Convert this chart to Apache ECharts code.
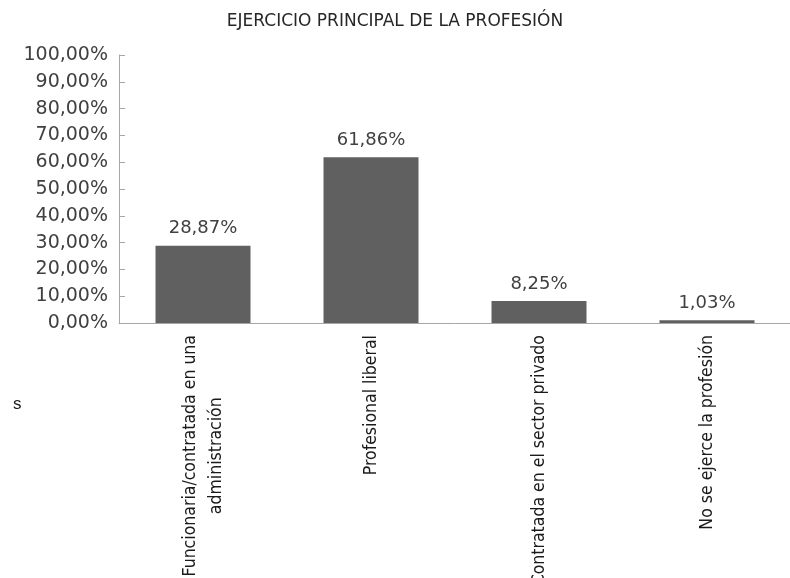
<!DOCTYPE html>
<html>
<head>
<meta charset="utf-8">
<script src="https://cdn.jsdelivr.net/npm/echarts@6/dist/echarts.min.js"></script>
<style>
  html, body { margin: 0; padding: 0; background: #fff; }
  #chart { width: 790px; height: 578px; }
</style>
</head>
<body>
<div id="chart"></div>
<script>
var categories = ['Funcionaria/contratada en una\nadministración', 'Profesional liberal', 'Contratada en el sector privado', 'No se ejerce la profesión'];
var values = [28.87, 61.86, 8.25, 1.03];
var yTicks = [0, 10, 20, 30, 40, 50, 60, 70, 80, 90, 100];

function pct(v) {
  return v.toFixed(2).replace('.', ',') + '%';
}

var chart = echarts.init(document.getElementById('chart'));
var option = {
  backgroundColor: '#ffffff',
  animation: false,
  title: {
    text: 'EJERCICIO PRINCIPAL DE LA PROFESIÓN',
    left: 'center',
    top: 8,
    textStyle: { fontFamily: 'DejaVu Sans', fontSize: 17, fontWeight: 'normal', color: '#262626' }
  },
  grid: { left: 119, right: -1, top: 55, bottom: 255, outerBoundsMode: 'none', containLabel: false },
  xAxis: {
    type: 'category',
    data: categories,
    axisLine: { lineStyle: { color: '#a6a6a6', width: 1 } },
    axisTick: { show: false },
    axisLabel: {
      rotate: 90,
      margin: 12,
      interval: 0,
      color: '#1a1a1a',
      fontFamily: 'DejaVu Sans Condensed, DejaVu Sans',
      fontSize: 17.5,
      formatter: function (v) {
        return v.split('\n').map(function (s) { return '{c|' + s + '}'; }).join('\n');
      },
      rich: {
        c: { align: 'center', fontFamily: 'DejaVu Sans Condensed, DejaVu Sans', fontSize: 17.5, color: '#1a1a1a', lineHeight: 26 }
      }
    }
  },
  yAxis: {
    type: 'value',
    min: yTicks[0],
    max: yTicks[yTicks.length - 1],
    interval: 10,
    splitLine: { show: false },
    axisLine: { show: true, lineStyle: { color: '#a6a6a6', width: 1 } },
    axisTick: { show: true, inside: true, length: 6, lineStyle: { color: '#a6a6a6' } },
    axisLabel: {
      margin: 11,
      color: '#404040',
      fontFamily: 'DejaVu Sans',
      fontSize: 19,
      formatter: function (v) { return pct(v); }
    }
  },
  series: [{
    type: 'bar',
    data: values,
    barWidth: 95,
    itemStyle: { color: '#606060' },
    label: {
      show: true,
      position: 'top',
      distance: 8,
      color: '#404040',
      fontFamily: 'DejaVu Sans',
      fontSize: 18,
      formatter: function (p) { return pct(p.value); }
    }
  }],
  graphic: [{
    type: 'text',
    left: 13,
    top: 396,
    style: { text: 's', fontFamily: 'Liberation Sans', fontSize: 17, fill: '#1a1a1a' }
  }]
};
chart.setOption(option);
</script>
</body>
</html>
